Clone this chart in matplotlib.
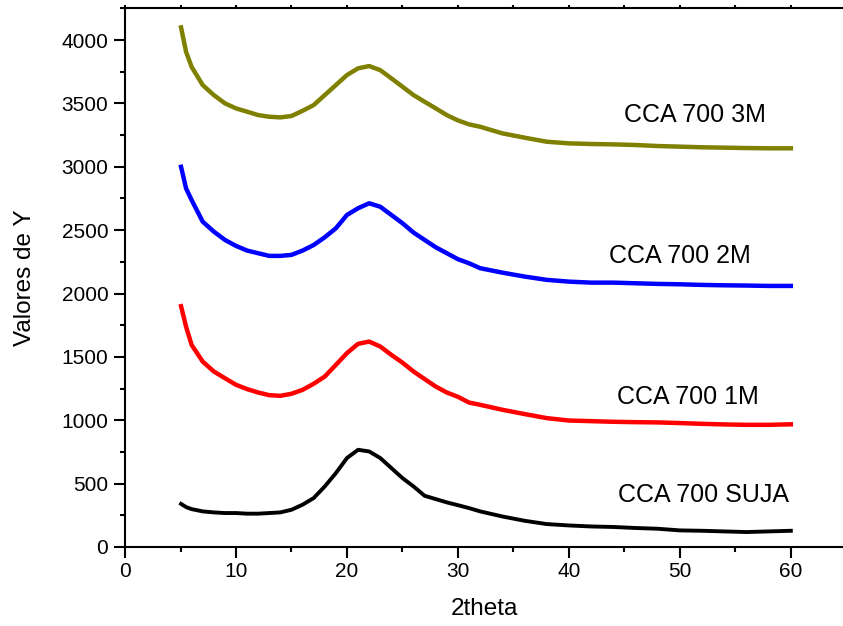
import matplotlib
matplotlib.use("Agg")
import matplotlib.pyplot as plt
from matplotlib.ticker import MultipleLocator

plt.rcParams['font.family'] = ['Liberation Sans', 'DejaVu Sans']

# 2theta positions where each pattern was read
theta = [5.05, 5.5, 6, 7, 8, 9, 10, 11, 12, 13, 14, 15, 16, 17, 18, 19, 20,
         21, 22, 23, 24, 25, 26, 27, 28, 29, 30, 31, 32, 34, 36, 38, 40, 42,
         44, 46, 48, 50, 52, 54, 56, 58, 60]

cca_3m = [4100, 3908, 3789, 3645, 3566, 3501, 3461, 3435, 3408, 3395, 3390,
          3401, 3442, 3487, 3566, 3645, 3724, 3777, 3795, 3763, 3698, 3632,
          3566, 3513, 3461, 3408, 3366, 3335, 3316, 3264, 3230, 3198, 3185,
          3180, 3177, 3172, 3164, 3159, 3154, 3151, 3148, 3146, 3146]

cca_2m = [3000, 2830, 2738, 2567, 2489, 2423, 2376, 2339, 2318, 2297, 2297,
          2305, 2339, 2383, 2444, 2515, 2620, 2673, 2712, 2685, 2620, 2555,
          2481, 2423, 2365, 2318, 2271, 2239, 2200, 2165, 2134, 2108, 2094,
          2086, 2086, 2081, 2076, 2073, 2068, 2065, 2063, 2060, 2060]

cca_1m = [1900, 1739, 1595, 1463, 1385, 1332, 1280, 1246, 1219, 1198, 1193,
          1209, 1240, 1288, 1345, 1437, 1530, 1603, 1621, 1582, 1516, 1455,
          1385, 1325, 1266, 1219, 1185, 1140, 1122, 1083, 1049, 1017, 998,
          993, 988, 985, 983, 978, 972, 967, 964, 964, 968]

cca_suja = [340, 315, 299, 281, 273, 268, 268, 263, 263, 268, 273, 294, 334,
            386, 478, 583, 702, 767, 754, 702, 623, 544, 478, 404, 378, 352,
            330, 307, 281, 241, 207, 181, 170, 162, 158, 150, 144, 131, 128,
            123, 118, 123, 128]

labels = ['CCA 700 3M', 'CCA 700 2M', 'CCA 700 1M', 'CCA 700 SUJA']
label_x = [51.4, 50.0, 50.7, 52.1]
label_y = [3409, 2297, 1186, 412]

fig = plt.figure(figsize=(8.43, 6.26), dpi=100)
ax = fig.add_axes([0.1483, 0.1262, 0.8517, 0.861])

ax.plot(theta, cca_3m, color='#808000', lw=3.2)
ax.plot(theta, cca_2m, color='#0000ff', lw=3.2)
ax.plot(theta, cca_1m, color='#ff0000', lw=3.2)
ax.plot(theta, cca_suja, color='black', lw=2.8)

for txt, lx, ly in zip(labels, label_x, label_y):
    ax.text(lx, ly, txt, fontsize=18, ha='center', va='center')

ax.set_xlim(0, 64.7)
ax.set_ylim(0, 4253)
ax.xaxis.set_major_locator(MultipleLocator(10))
ax.xaxis.set_minor_locator(MultipleLocator(5))
ax.yaxis.set_major_locator(MultipleLocator(500))
ax.yaxis.set_minor_locator(MultipleLocator(250))

ax.tick_params(which='major', direction='out', length=8, width=1.5,
               labelsize=15, pad=4)
ax.tick_params(which='minor', direction='out', length=3.5, width=1.5)
ax.tick_params(axis='x', which='major', pad=3)
# short marks on the top frame
ax.tick_params(axis='x', which='both', top=True)
ax.xaxis.get_major_ticks()
for t in ax.xaxis.get_major_ticks() + ax.xaxis.get_minor_ticks():
    t.tick2line.set_markersize(2)
ax.spines['right'].set_visible(False)
for s in ax.spines.values():
    s.set_linewidth(1.5)

ax.set_xlabel('2theta', fontsize=17.5, labelpad=12)
ax.set_ylabel('Valores de Y', fontsize=17.5, labelpad=18)

fig.savefig('out.png', dpi=100)
